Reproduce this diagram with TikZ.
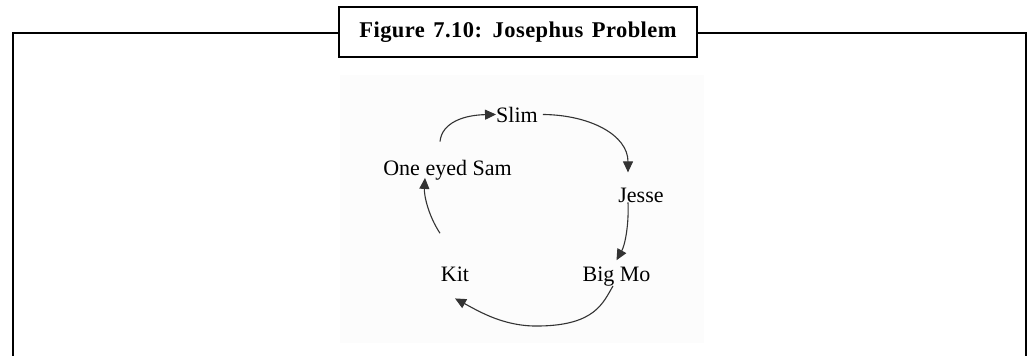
\documentclass[tikz,border=0pt]{standalone}
\usepackage{fontspec}
\setmainfont{Liberation Serif}
\newfontfamily\titlefont[LetterSpace=2,WordSpace=1.4]{Liberation Serif}
\usetikzlibrary{positioning, calc, arrows.meta}

\begin{document}
\begin{tikzpicture}[x=1pt, y=-1pt,
    person/.style={inner sep=0pt, anchor=base, font=\fontsize{22}{24}\selectfont},
    link/.style={-{Triangle[length=11pt, width=10pt]}, line width=1.1pt, draw=black!80},
    frame/.style={line width=2.7pt}]
    \useasboundingbox (0,0) rectangle (1029,356);

    % Frame and caption
    \draw[frame] (13,360) -- (13,33) -- (1026,33) -- (1026,360);
    \node[frame, draw, fill=white, minimum width=358pt, minimum height=50pt,
          text height=11pt, text depth=0pt, inner sep=0pt,
          font=\titlefont\bfseries\fontsize{22.5}{24}\selectfont] (title) at (518,32)
          {Figure 7.10: Josephus Problem};

    % Picture area
    \fill[black!1] (340,75) rectangle (704,343);

    % Men in the circle
    \node[person] (slim)  at (517,122)   {Slim};
    \node[person] (sam)   at (447.5,175) {One eyed Sam};
    \node[person] (jesse) at (641,202)   {Jesse};
    \node[person] (kit)   at (455,281)   {Kit};
    \node[person] (bigmo) at (616.5,281) {Big Mo};

    % Links round the circle
    \draw[link] ($(sam.north)+(-7.5,-18)$) .. controls (442,122) and (465,115) .. (slim.west);
    \draw[link] ($(slim.east)+(5,0)$) .. controls (590,115) and (628,135) .. ($(jesse.north)+(-13,-15)$);
    \draw[link] ($(jesse.south)+(-13,0)$) .. controls (629,225) and (625,245) .. ($(bigmo.north)+(0,-6)$);
    \draw[link] ($(bigmo.south)+(-3.5,0)$) .. controls (603,303) and (595,325) .. (540,326)
        .. controls (505,327) and (480,312) .. ($(kit.south)+(0,17)$);
    \draw[link] ($(kit.north)+(-15,-33)$) .. controls (428,215) and (424,195) .. ($(sam.south)+(-22.5,-2)$);
\end{tikzpicture}
\end{document}
